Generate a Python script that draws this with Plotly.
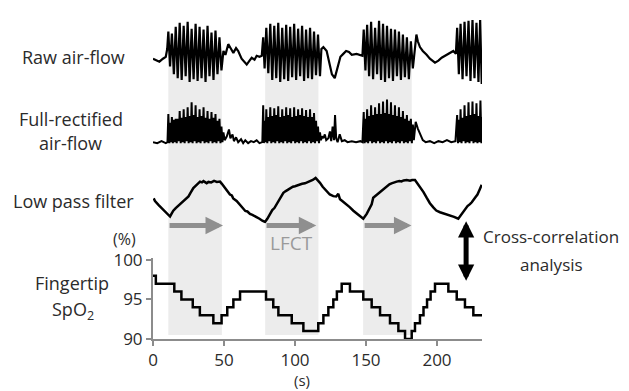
import plotly.graph_objects as go

# ---------------- data ----------------
# time axis in seconds
x_ticks = [0, 50, 100, 150, 200]
spo2_ticks = [90, 95, 100]

# shaded periods (s)
band_start = [10.8, 79.0, 148.0]
band_end = [48.5, 116.5, 182.2]

# LFCT arrows (start, end in s)
lfct_start = [10.6, 78.9, 148.0]
lfct_end = [49.3, 115.0, 182.0]

# Raw air-flow (time s, arbitrary amplitude)
raw_airflow = [
    (0, 30), (2, 29), (4.5, 27), (7, 30), (9, 32), (10, 40),
    (10.8, 58), (12, 22), (13.3, 56), (14.7, 14), (16, 63), (17.4, 10), (18.8, 67), (20.2, 8),
    (21.6, 64), (23, 12), (24.4, 68), (25.8, 6), (27.2, 61), (28.6, 9), (30, 66), (31.4, 7),
    (32.8, 63), (34.2, 10), (35.6, 60), (37, 6), (38.4, 64), (39.8, 12), (41.2, 57), (42.6, 8),
    (44, 59), (45.4, 14), (46.8, 52), (48.2, 18), (49.6, 38),
    (51, 34), (53, 45), (55, 40), (56.6, 36), (58.5, 41), (60, 38), (62.4, 30), (64, 27), (66, 24),
    (68, 28), (69.5, 31), (71.5, 29), (73, 33), (75, 32), (76.6, 33),
    (77.6, 52), (78.6, 20), (79.8, 62), (81.2, 15), (82.6, 66), (84, 8), (85.4, 64), (86.8, 10),
    (88.2, 67), (89.6, 6), (91, 62), (92.4, 9), (93.8, 65), (95.2, 7), (96.6, 63), (98, 11),
    (99.4, 66), (100.8, 8), (102.2, 61), (103.6, 12), (105, 64), (106.4, 7), (107.8, 60), (109.2, 10),
    (110.6, 62), (112, 9), (113.4, 58), (114.8, 13), (116.2, 55), (117.6, 12), (118.6, 40),
    (120, 42), (122.3, 38), (123.5, 30), (124.6, 22), (126, 14), (128, 10), (129, 16), (130.5, 25),
    (132, 32), (134, 35), (136, 38), (138, 37), (140, 34), (143.4, 35), (146, 34), (147.5, 33),
    (148.4, 60), (149.6, 18), (150.8, 65), (152.2, 12), (153.6, 68), (155, 9), (156.4, 62), (157.8, 14),
    (159.2, 69), (160.6, 8), (162, 66), (163.4, 6), (164.8, 64), (166.2, 10), (167.6, 61), (169, 7),
    (170.4, 60), (171.8, 12), (173.2, 58), (174.6, 8), (176, 55), (177.4, 11), (178.8, 52), (180.2, 9),
    (181.6, 48), (183, 20),
    (185.5, 55), (186.5, 48), (188, 42), (190, 38), (192.7, 34), (195, 30), (198.6, 26), (201, 28),
    (203.3, 31), (206.8, 34), (209, 36), (211.5, 38), (213.3, 35),
    (214.2, 62), (215.4, 14), (216.6, 66), (218, 9), (219.4, 68), (220.8, 12), (222.2, 69), (223.6, 7),
    (225, 70), (226.4, 10), (227.8, 67), (229.2, 6), (230.4, 70), (231.5, 4),
]

# Full-rectified air-flow (time s, arbitrary amplitude)
rectified_airflow = [
    (0, 4), (3, 3), (6, 5), (9, 3), (10.2, 4),
    (10.8, 33), (11.5, 3), (12, 24), (12.6, 4), (13.3, 30), (14, 3), (14.7, 27), (15.3, 4), (16, 28),
    (16.7, 3), (17.4, 28), (18.1, 5), (18.8, 36), (19.5, 3), (20.2, 29), (20.9, 4), (21.6, 38), (22.3, 3),
    (23, 30), (23.7, 5), (24.4, 40), (25.1, 3), (25.8, 31), (26.5, 4), (27.2, 45), (27.9, 3), (28.6, 32),
    (29.3, 5), (30, 42), (30.7, 3), (31.4, 30), (32.1, 4), (32.8, 38), (33.5, 3), (34.2, 31), (34.9, 5),
    (35.6, 40), (36.3, 3), (37, 29), (37.7, 4), (38.4, 36), (39.1, 3), (39.8, 28), (40.5, 5), (41.2, 35),
    (41.9, 3), (42.6, 29), (43.3, 4), (44, 33), (44.7, 3), (45.4, 26), (46.1, 5), (46.8, 28), (47.5, 3),
    (48.2, 20), (48.9, 4), (49.6, 14),
    (50.5, 6), (52, 10), (53.5, 17), (54.5, 8), (56, 12), (57, 5), (58.5, 9), (60, 4), (62, 7), (63.5, 3),
    (65, 6), (67, 3), (69, 5), (71, 4), (73, 6), (75, 3), (77, 4),
    (77.6, 42), (78.1, 3), (78.6, 26), (79.2, 4), (79.8, 38), (80.5, 3), (81.2, 30), (81.9, 5), (82.6, 40),
    (83.3, 3), (84, 31), (84.7, 4), (85.4, 39), (86.1, 3), (86.8, 32), (87.5, 5), (88.2, 41), (88.9, 3),
    (89.6, 30), (90.3, 4), (91, 38), (91.7, 3), (92.4, 31), (93.1, 5), (93.8, 40), (94.5, 3), (95.2, 32),
    (95.9, 4), (96.6, 39), (97.3, 3), (98, 30), (98.7, 5), (99.4, 40), (100.1, 3), (100.8, 31), (101.5, 4),
    (102.2, 38), (102.9, 3), (103.6, 32), (104.3, 5), (105, 39), (105.7, 3), (106.4, 31), (107.1, 4),
    (107.8, 37), (108.5, 3), (109.2, 30), (109.9, 5), (110.6, 38), (111.3, 3), (112, 30), (112.7, 4),
    (113.4, 34), (114.1, 3), (114.8, 26), (115.5, 5), (116.2, 20), (116.9, 3), (117.6, 14), (118.3, 6),
    (119, 10), (120, 8), (121, 12), (122, 6), (123.5, 8), (124.6, 15), (125.5, 5), (126.5, 20), (127.5, 6),
    (128.2, 32), (129, 8), (130, 4), (131.5, 12), (133, 5), (135, 6), (137, 4), (140, 5), (143, 4),
    (146, 5), (147.5, 4),
    (148.4, 35), (149, 3), (149.6, 28), (150.2, 4), (150.8, 38), (151.5, 3), (152.2, 31), (152.9, 5),
    (153.6, 42), (154.3, 3), (155, 32), (155.7, 4), (156.4, 40), (157.1, 3), (157.8, 33), (158.5, 5),
    (159.2, 44), (159.9, 3), (160.6, 33), (161.3, 4), (162, 46), (162.7, 3), (163.4, 34), (164.1, 5),
    (164.8, 48), (165.5, 3), (166.2, 33), (166.9, 4), (167.6, 45), (168.3, 3), (169, 32), (169.7, 5),
    (170.4, 42), (171.1, 3), (171.8, 31), (172.5, 4), (173.2, 40), (173.9, 3), (174.6, 30), (175.3, 5),
    (176, 36), (176.7, 3), (177.4, 28), (178.1, 4), (178.8, 32), (179.5, 3), (180.2, 26), (180.9, 5),
    (181.6, 28), (182.3, 3), (183, 22), (183.7, 6),
    (185, 25), (186.5, 18), (188, 12), (190, 6), (192, 4), (195, 5), (198, 3), (201, 5), (204, 4),
    (207, 6), (210, 4), (213, 5),
    (214.2, 32), (214.8, 3), (215.4, 27), (216, 4), (216.6, 38), (217.3, 3), (218, 29), (218.7, 5),
    (219.4, 42), (220.1, 3), (220.8, 31), (221.5, 4), (222.2, 45), (222.9, 3), (223.6, 32), (224.3, 5),
    (225, 46), (225.7, 3), (226.4, 33), (227.1, 4), (227.8, 44), (228.5, 3), (229.2, 31), (229.9, 4),
    (230.6, 47), (231.3, 3), (232, 30),
]

# Low pass filter output (time s, arbitrary amplitude)
low_pass = [
    (0.5, 26), (1.4, 23.3), (4, 19), (7, 15), (10, 10), (12, 7.3), (13, 10), (14.3, 13.3), (16, 16),
    (17.5, 18), (19, 20), (21, 23), (23.7, 26.7), (25, 28), (26.5, 32), (28.4, 36.7), (30, 39), (31.5, 41),
    (33.1, 43.3), (34.5, 42.5), (35.5, 43.8), (37.8, 41.7), (39, 43), (41, 42.5), (43, 44), (45, 43),
    (47.2, 43.3), (48.5, 41), (50.7, 36.7), (52, 34), (54.2, 30), (55.5, 29), (56.5, 26), (58.9, 23.3),
    (61, 20), (63.6, 15), (65, 13), (66.5, 12.5), (68.3, 10), (70, 9), (71.5, 8), (73, 6.7), (75, 5),
    (77, 3), (78.9, 1.7), (80.5, 5), (82.4, 10), (84, 14), (85.5, 16), (87.1, 20), (89, 25), (90.5, 28),
    (91.8, 31.7), (93.5, 33.5), (94.5, 34.5), (96.5, 36.7), (98.5, 38), (100, 38.5), (101.5, 39.5),
    (103.5, 40), (105, 41), (107, 41.5), (108.5, 42.5), (110.6, 43.3), (112.5, 45), (114.5, 47), (116, 45),
    (117.6, 42), (119.5, 38), (122.3, 33.3), (124.5, 30), (127, 28.3), (129, 28), (130.5, 30.7),
    (131.7, 25), (133.5, 23), (136.4, 20), (138.5, 17), (141.1, 13.3), (143.5, 10.5), (145.8, 8.3),
    (148.1, 5), (150.5, 10), (152.8, 16.7), (154, 20), (155.1, 26.7), (157, 29), (158, 31), (159.9, 33.3),
    (162, 36), (164.6, 38.3), (166.5, 40.5), (168, 41.5), (169.5, 42.5), (171.6, 43.3), (173.5, 44),
    (175, 43.5), (176.5, 44.5), (178.7, 45), (181, 44.2), (182.5, 45), (184.5, 45), (186, 42), (188, 38.3),
    (190.5, 32.5), (192.7, 26.7), (195, 21), (197.4, 16.7), (199.5, 13.5), (202.1, 11.7), (205, 10.5),
    (207, 9.5), (209.2, 8.3), (212, 7), (215, 5), (216.5, 8), (218.5, 11.7), (220, 14), (221.5, 18),
    (223.2, 20), (224.5, 22), (226.8, 26.7), (228.5, 30), (230, 35), (231.5, 40),
]

# Fingertip SpO2 (%), step changes: time s, value
spo2_time = [0, 2, 15, 20, 28, 33, 42.5, 48.3, 52.3, 56.6, 61.3, 79.6, 84.7, 88.3, 97.7, 105.9,
             116.4, 120, 123.5, 127, 129.5, 132.9, 138.7, 148.1, 154, 159.9, 166.9, 172.8, 177.5,
             182.2, 184.5, 188, 190.5, 193, 195.5, 198.6, 208, 213.9, 219.7, 225.6, 231.7]
spo2_value = [98, 97, 96, 95, 94, 93, 92, 93, 94, 95, 96, 95, 94, 93, 92, 91,
              92, 93, 94, 95, 96, 97, 96, 95, 94, 93, 92, 91, 90,
              91, 92, 93, 94, 95, 96, 97, 96, 95, 94, 93, 93]

# ---------------- figure ----------------
FONT = "Open Sans"
TXT = "#2b2b2b"
AX = "#8c8c8c"

fig = go.Figure()

def unzip(pairs):
    return [p[0] for p in pairs], [p[1] for p in pairs]

rt, rv = unzip(raw_airflow)
ft, fv = unzip(rectified_airflow)
lt, lv = unzip(low_pass)

fig.add_trace(go.Scatter(x=rt, y=rv, mode="lines", line=dict(color="black", width=2.2),
                         xaxis="x", yaxis="y4", hoverinfo="skip"))
fig.add_trace(go.Scatter(x=ft, y=fv, mode="lines", line=dict(color="black", width=2),
                         xaxis="x", yaxis="y3", hoverinfo="skip"))
fig.add_trace(go.Scatter(x=lt, y=lv, mode="lines", line=dict(color="black", width=2.5),
                         xaxis="x", yaxis="y2", hoverinfo="skip"))
fig.add_trace(go.Scatter(x=spo2_time, y=spo2_value, mode="lines", line=dict(color="black", width=2.5, shape="hv"),
                         xaxis="x", yaxis="y", hoverinfo="skip", cliponaxis=False))

# The page body has an 8px margin, so the figure sits at (8, 8) in the window.
# Plot area in window pixels: x 153..482, y 8..339 (height 331).
OFF = 8
H = 331.0
def py(pix):
    return (339.0 - pix) / H

shapes = []
for s, e in zip(band_start, band_end):
    shapes.append(dict(type="rect", xref="x", yref="paper", x0=s, x1=e, y0=py(335), y1=py(45),
                       fillcolor="#ececec", line=dict(width=0), layer="below"))

annotations = []
for s, e in zip(lfct_start, lfct_end):
    annotations.append(dict(x=e, y=py(222), xref="x", yref="paper", ax=s, ay=0, axref="x", ayref="pixel",
                            text="", showarrow=True, arrowhead=2, arrowsize=0.7, arrowwidth=5,
                            arrowcolor="#8f8f8f"))
# double headed black arrow
annotations.append(dict(x=220.5, y=py(279), xref="x", yref="paper", ax=0, ay=-61, axref="pixel", ayref="pixel",
                        text="", showarrow=True, arrowhead=2, startarrowhead=2, arrowside="end+start",
                        arrowsize=0.65, startarrowsize=0.65, arrowwidth=5, arrowcolor="black"))

def label(text, xpix, ypix, size=18, color=TXT, xanchor="center"):
    annotations.append(dict(text=text, x=(xpix - 153.0) / 329.0, y=py(ypix), xref="paper", yref="paper",
                            showarrow=False, xanchor=xanchor, yanchor="middle",
                            font=dict(family=FONT, size=size, color=color)))

label("Raw air-flow", 73, 48)
label("Full-rectified", 71, 112)
label("air-flow", 70, 137)
label("Low pass filter", 73, 197)
label("(%)", 138, 236, size=16, xanchor="right")
label("Fingertip", 72, 281)
label("SpO<sub>2</sub>", 73, 310)
label("Cross-correlation", 551, 233, size=17)
label("analysis", 551, 262, size=17)
label("LFCT", 291, 240, size=19, color="#9a9a9a")
label("(s)", 302, 381.5, size=15)

hidden = dict(visible=False, showgrid=False, zeroline=False, fixedrange=True)

fig.update_layout(
    width=629 - OFF, height=391 - OFF,
    margin=dict(l=153 - OFF, r=147, t=8 - OFF, b=52, pad=0),
    paper_bgcolor="white", plot_bgcolor="white",
    showlegend=False,
    font=dict(family=FONT, size=17, color=TXT),
    xaxis=dict(range=[0, 231.7], tickvals=x_ticks, showgrid=False, zeroline=False, showline=True,
               linecolor=AX, linewidth=2, ticks="outside", ticklen=5, tickwidth=1.5, tickcolor=AX,
               anchor="y", tickfont=dict(family=FONT, size=17, color=TXT), ticklabelstandoff=0),
    yaxis=dict(domain=[0, py(255)], range=[90, 100.3], tickvals=spo2_ticks, showgrid=False, zeroline=False,
               showline=True, linecolor=AX, linewidth=2, ticks="outside", ticklen=5, tickwidth=1.5,
               tickcolor=AX, anchor="x", tickfont=dict(family=FONT, size=17, color=TXT)),
    yaxis2=dict(domain=[py(220), py(170)], range=[0, 50], anchor="x", **hidden),
    yaxis3=dict(domain=[py(140), py(90)], range=[0, 50], anchor="x", **hidden),
    yaxis4=dict(domain=[py(80), py(10)], range=[0, 70], anchor="x", **hidden),
    shapes=shapes, annotations=annotations,
)

fig.write_html("out.html")
